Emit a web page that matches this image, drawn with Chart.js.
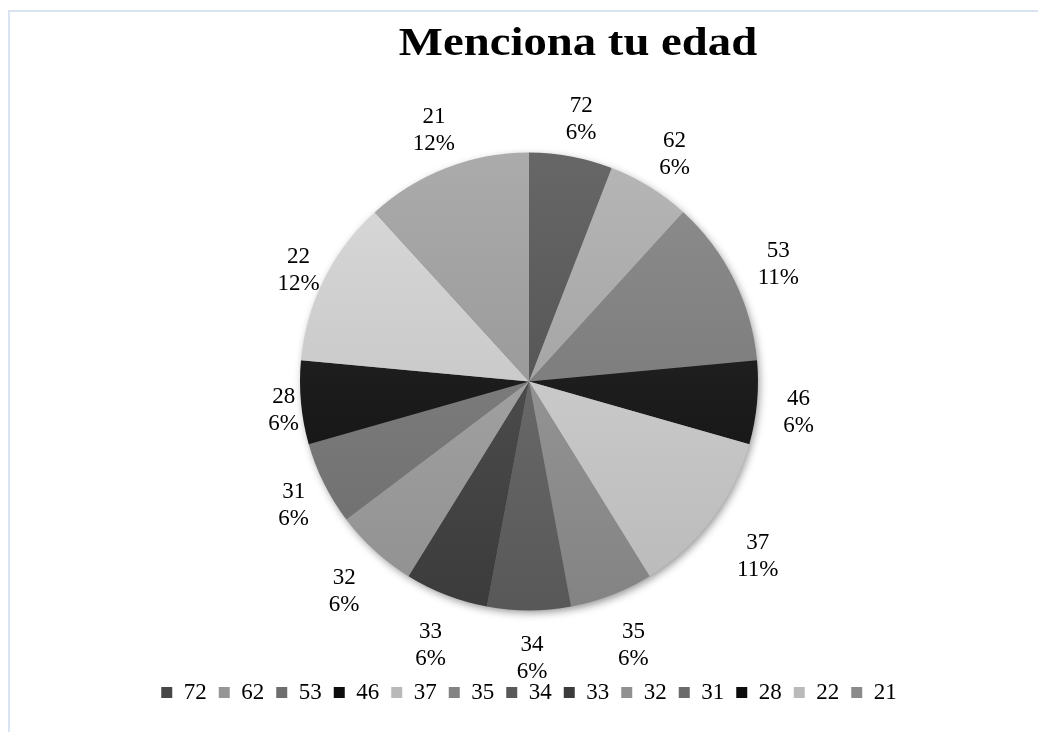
<!DOCTYPE html>
<html>
<head>
<meta charset="utf-8">
<script src="https://cdn.jsdelivr.net/npm/chart.js@4/dist/chart.umd.min.js"></script>
<style>
  html, body { margin: 0; padding: 0; background: #fff; }
  #wrap { position: relative; width: 1038px; height: 732px; overflow: hidden; }
  #frame { position: absolute; left: 8px; top: 10px; right: -4px; bottom: -4px;
           border-top: 2px solid #dae3f2; border-left: 2px solid #dae3f2; pointer-events: none; }
  canvas { position: absolute; left: 0; top: 0; }
</style>
</head>
<body>
<div id="wrap">
  <canvas id="c" width="1038" height="732"></canvas>
  <div id="frame"></div>
</div>
<script>
// ---- data ----
const titleText = 'Menciona tu edad';
const categories = ['72', '62', '53', '46', '37', '35', '34', '33', '32', '31', '28', '22', '21'];
const counts     = [1, 1, 2, 1, 2, 1, 1, 1, 1, 1, 1, 2, 2];
const percentLabels = ['6%', '6%', '11%', '6%', '11%', '6%', '6%', '6%', '6%', '6%', '6%', '12%', '12%'];
const grays = [0x57, 0xa6, 0x7e, 0x1d, 0xc9, 0x93, 0x68, 0x4b, 0xa0, 0x7b, 0x1c, 0xca, 0x9b];

const SERIF = "'Liberation Serif', 'Times New Roman', serif";
const RADIUS = 229;

function g(v) { v = Math.max(0, Math.min(255, Math.round(v))); return 'rgb(' + v + ',' + v + ',' + v + ')'; }

function sliceFill(ctx) {
  const chart = ctx.chart;
  const base = grays[ctx.dataIndex];
  const area = chart.chartArea;
  if (!area) return g(base);
  const cy = (area.top + area.bottom) / 2;
  const grad = chart.ctx.createLinearGradient(0, cy - RADIUS, 0, cy + RADIUS);
  grad.addColorStop(0, g(base + 16));
  grad.addColorStop(1, g(base - 16));
  return grad;
}

const shadowPlugin = {
  id: 'pieShadow',
  beforeDatasetsDraw(chart) {
    const meta = chart.getDatasetMeta(0);
    if (!meta.data.length) return;
    const a = meta.data[0];
    const ctx = chart.ctx;
    ctx.save();
    ctx.shadowColor = 'rgba(0,0,0,0.45)';
    ctx.shadowBlur = 9;
    ctx.shadowOffsetX = 2;
    ctx.shadowOffsetY = 3;
    ctx.fillStyle = '#888';
    ctx.beginPath();
    ctx.arc(a.x, a.y, a.outerRadius - 1, 0, Math.PI * 2);
    ctx.fill();
    ctx.restore();
  }
};

const labelPlugin = {
  id: 'outLabels',
  afterDatasetsDraw(chart) {
    const meta = chart.getDatasetMeta(0);
    const ctx = chart.ctx;
    ctx.save();
    ctx.font = '23px ' + SERIF;
    ctx.fillStyle = '#000';
    ctx.textAlign = 'center';
    ctx.textBaseline = 'middle';
    const lineH = 27;
    meta.data.forEach((arc, i) => {
      const mid = (arc.startAngle + arc.endAngle) / 2;
      const cx = Math.cos(mid), sy = Math.sin(mid);
      const l1 = categories[i], l2 = percentLabels[i];
      const w = Math.max(ctx.measureText(l1).width, ctx.measureText(l2).width);
      const h = lineH * 2 - 12;
      const ext = Math.abs(cx) * w / 2 + Math.abs(sy) * h / 2;
      const leftPen = 20 * Math.max(0, (-cx - 0.6) / 0.4) * (1 - 0.8 * Math.max(0, sy));
      const gap = 21 + 6 * sy - leftPen;
      const r = arc.outerRadius + gap + ext;
      const x = arc.x + cx * r + 3;
      const y = arc.y + sy * r + 6 * Math.abs(cx);
      ctx.fillText(l1, x, y - lineH / 2);
      ctx.fillText(l2, x, y + lineH / 2);
    });
    ctx.restore();
  }
};

const titlePlugin = {
  id: 'topTitle',
  afterDraw(chart) {
    const ctx = chart.ctx;
    ctx.save();
    ctx.font = 'bold 41px ' + SERIF;
    ctx.fillStyle = '#000';
    ctx.textAlign = 'center';
    ctx.textBaseline = 'alphabetic';
    ctx.translate(578, 55);
    ctx.scale(1.14, 1);
    ctx.fillText(titleText, 0, 0);
    ctx.restore();
  }
};

new Chart(document.getElementById('c'), {
  type: 'pie',
  data: {
    labels: categories,
    datasets: [{
      data: counts,
      backgroundColor: sliceFill,
      borderWidth: 0,
      hoverOffset: 0
    }]
  },
  options: {
    responsive: false,
    animation: false,
    radius: RADIUS,
    layout: { padding: { top: 94, bottom: 18, left: 20, right: 0 } },
    plugins: {
      title: { display: false },
      tooltip: { enabled: false },
      legend: {
        display: true,
        position: 'bottom',
        labels: {
          boxWidth: 11,
          boxHeight: 11,
          padding: 12,
          color: '#000',
          font: { family: SERIF, size: 23 }
        }
      }
    }
  },
  plugins: [shadowPlugin, labelPlugin, titlePlugin]
});
</script>
</body>
</html>
